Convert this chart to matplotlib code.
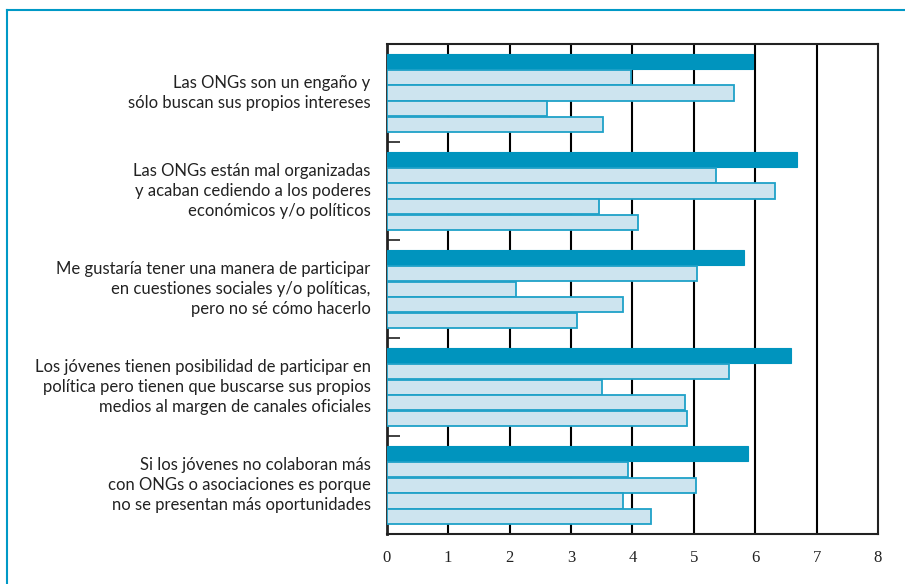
import matplotlib
matplotlib.use("Agg")
import matplotlib.pyplot as plt
import numpy as np

categories = [
    "Las ONGs son un engaño y\nsólo buscan sus propios intereses",
    "Las ONGs están mal organizadas\ny acaban cediendo a los poderes\neconómicos y/o políticos",
    "Me gustaría tener una manera de participar\nen cuestiones sociales y/o políticas,\npero no sé cómo hacerlo",
    "Los jóvenes tienen posibilidad de participar en\npolítica pero tienen que buscarse sus propios\nmedios al margen de canales oficiales",
    "Si los jóvenes no colaboran más\ncon ONGs o asociaciones es porque\nno se presentan más oportunidades",
]
series_total = [5.97, 6.68, 5.81, 6.58, 5.88]
series_b = [3.97, 5.37, 5.05, 5.58, 3.93]
series_c = [5.66, 6.33, 2.10, 3.50, 5.03]
series_d = [2.61, 3.46, 3.85, 4.86, 3.85]
series_e = [3.53, 4.10, 3.10, 4.89, 4.31]
xticks = [0, 1, 2, 3, 4, 5, 6, 7, 8]

dark = "#0094be"
light = "#cde4ef"
edge = "#1fa1c8"

fig = plt.figure(figsize=(9.05, 5.84), dpi=100)
ax = fig.add_axes([386.7 / 905, (584 - 534.3) / 584, (878 - 386.7) / 905, (534.3 - 44) / 584])

n = len(categories)
centers = np.arange(n) + 0.5
pitch = 0.16
h = 0.155
series = [series_total, series_b, series_c, series_d, series_e]
for i, vals in enumerate(series):
    y = centers + (i - 2) * pitch
    if i == 0:
        ax.barh(y, vals, height=h, color=dark, edgecolor=dark, linewidth=0.8, zorder=3)
    else:
        ax.barh(y, vals, height=h, color=light, edgecolor=edge, linewidth=1.3, zorder=3)

ax.set_xlim(0, 8)
ax.set_ylim(n, 0)
ax.set_xticks(xticks)
ax.set_xticklabels([str(t) for t in xticks], fontfamily="Liberation Serif", fontsize=12, color="#222222")
ax.tick_params(axis="x", length=0, pad=11)
for xv in xticks[1:-1]:
    ax.axvline(xv, color="black", lw=1.5, zorder=1)

ax.set_yticks(np.arange(n + 1))
ax.set_yticklabels([])
ax.tick_params(axis="y", direction="in", length=9, width=1.3, color="#333333")
for c, lab in zip(centers, categories):
    ax.text(-16 / 61.4, c, lab, ha="right", va="center", fontsize=12,
            fontfamily="Lato", color="#222222", linespacing=1.32, transform=ax.transData)

for s in ax.spines.values():
    s.set_color("#222222")
    s.set_linewidth(1.5)
ax.spines["left"].set_linewidth(2)

# figure frame (blue)
fig.add_artist(plt.Line2D([7 / 905, 1.0], [1 - 10 / 584, 1 - 10 / 584], color="#0099c6", lw=1.5, transform=fig.transFigure))
fig.add_artist(plt.Line2D([7 / 905, 7 / 905], [0, 1 - 10 / 584], color="#0099c6", lw=1.5, transform=fig.transFigure))

fig.savefig("out.png", dpi=100)
